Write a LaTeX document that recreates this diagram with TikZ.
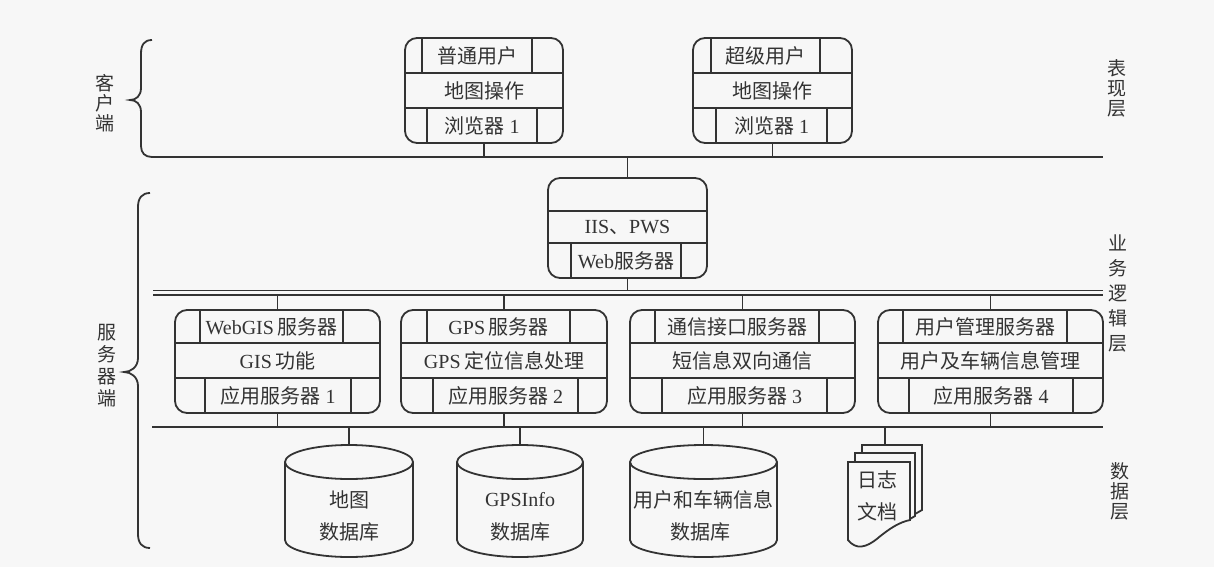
\documentclass[tikz,border=0pt]{standalone}
\usepackage{fontspec}
\setmainfont{Liberation Serif}
\newfontfamily\cjk{Noto Sans CJK SC}
\usetikzlibrary{fit}
\definecolor{bg}{HTML}{F7F7F7}
\definecolor{ink}{HTML}{333333}
\newcommand\tbox[9]{%
  \node[box, fit={(#2,#3) (#4,#5)}] (#1) {};
  \draw[ln] (#2,#6) -- (#4,#6) (#2,#7) -- (#4,#7);
  \foreach \xx in {#8} {\draw[ln] (\xx,#3) -- (\xx,#6);}
  \foreach \xx in {#9} {\draw[ln] (\xx,#7) -- (\xx,#5);}
}
\newcommand\cyl[3]{%
  \node[inner sep=0pt, fit={(#2,445) (#3,557)}] (#1) {};
  \draw[ln] ({(#2+#3)/2},462) ellipse ({(#3-#2)/2} and 17);
  \draw[ln] (#2,462) -- (#2,540) arc[start angle=180, end angle=0, x radius={(#3-#2)/2}, y radius=17] -- (#3,462);
}
\begin{document}
\begin{tikzpicture}[x=1pt,y=-1pt,
  ln/.style={draw=ink,line width=1.8pt},
  box/.style={draw=ink,line width=1.8pt,rounded corners=12pt,inner sep=0pt},
  t/.style={inner sep=0pt,text=ink,font=\fontsize{20}{22}\selectfont},
  side/.style={inner sep=0pt,text=ink,align=center,font=\cjk\fontsize{19}{20}\selectfont}]
\fill[bg] (0,0) rectangle (1214,567);
\useasboundingbox (0,0) rectangle (1214,567);

% bus coordinates
\coordinate (tb) at (152,157); \coordinate (tbE) at (1103,157);
\coordinate (mbU) at (153,290.5); \coordinate (mbUE) at (1103,290.5);
\coordinate (mbD) at (153,295); \coordinate (mbDE) at (1103,295);
\coordinate (bb) at (152,427); \coordinate (bbE) at (1103,427);

% braces
\draw[ln] (152,40) .. controls (144,40) and (141,45) .. (141,54) -- (141,88)
  .. controls (141,96) and (136,100) .. (130,100)
  .. controls (136,100) and (141,104) .. (141,112) -- (141,146)
  .. controls (141,153) and (145,157) .. (tb);
\draw[ln] (150,193) .. controls (142,193) and (138,198) .. (138,207) -- (138,358)
  .. controls (138,367) and (131,372) .. (124,372)
  .. controls (131,372) and (138,377) .. (138,386) -- (138,534)
  .. controls (138,543) and (142,548) .. (150,548);

% buses
\draw[ln] (tb) -- (tbE);
\draw[draw=ink,line width=1.3pt] (mbU) -- (mbUE) (mbD) -- (mbDE);
\draw[ln] (bb) -- (bbE);

% side labels
\node[side] (lc) at (105,103) {客\\户\\端};
\node[side, font=\cjk\fontsize{19}{22}\selectfont] (ls) at (107,366) {服\\务\\器\\端};
\node[side] (lp) at (1117,88) {表\\现\\层};
\node[side, font=\cjk\fontsize{19}{25}\selectfont] (lb) at (1118,293) {业\\务\\逻\\辑\\层};
\node[side] (ld) at (1120,491) {数\\据\\层};

% client boxes
\tbox{c1}{405}{38}{563}{143}{73}{108}{422,532}{427,537}
\node[t] at (477,55.5) {\cjk 普通用户};
\node[t] at (484,90.5) {\cjk 地图操作};
\node[t] at (482,125.5) {{\cjk 浏览器} 1};
\tbox{c2}{693}{38}{852}{143}{73}{108}{711,820}{716,827}
\node[t] at (765.5,55.5) {\cjk 超级用户};
\node[t] at (772.5,90.5) {\cjk 地图操作};
\node[t] at (771.5,125.5) {{\cjk 浏览器} 1};

% web server
\node[box, fit={(548,178) (707,278)}] (web) {};
\draw[ln] (548,211) -- (707,211) (548,243) -- (707,243) (571,243) -- (571,278) (681,243) -- (681,278);
\node[t] at (627.5,227) {IIS{\cjk 、}PWS};
\node[t] at (626,260.5) {Web{\cjk 服务器}};

% application servers
\tbox{a1}{175}{310}{380}{413}{343}{378}{200,343}{205,351}
\node[t] at (271.5,326.5) {WebGIS\,{\cjk 服务器}};
\node[t] at (277.5,360.5) {GIS\,{\cjk 功能}};
\node[t] at (278,395.5) {{\cjk 应用服务器} 1};
\tbox{a2}{401}{310}{607}{413}{343}{378}{427,570}{433,578}
\node[t] at (498.5,326.5) {GPS\,{\cjk 服务器}};
\node[t] at (504,360.5) {GPS\,{\cjk 定位信息处理}};
\node[t] at (505.5,395.5) {{\cjk 应用服务器} 2};
\tbox{a3}{630}{310}{855}{413}{343}{378}{655,819}{662,827}
\node[t] at (737,326.5) {\cjk 通信接口服务器};
\node[t] at (742.5,360.5) {\cjk 短信息双向通信};
\node[t] at (744.5,395.5) {{\cjk 应用服务器} 3};
\tbox{a4}{878}{310}{1103}{413}{343}{378}{903,1067}{909,1073}
\node[t] at (985,326.5) {\cjk 用户管理服务器};
\node[t] at (990.5,360.5) {\cjk 用户及车辆信息管理};
\node[t] at (991,395.5) {{\cjk 应用服务器} 4};

% databases
\cyl{db1}{285}{413}
\node[t] at (349,500) {\cjk 地图};
\node[t] at (349,532) {\cjk 数据库};
\cyl{db2}{457}{583}
\node[t] at (520,500) {GPSInfo};
\node[t] at (520,532) {\cjk 数据库};
\cyl{db3}{630}{777}
\node[t] at (703.5,500) {\cjk 用户和车辆信息};
\node[t] at (700,532) {\cjk 数据库};

% log documents
\node[inner sep=0pt, fit={(848,445) (922,548)}] (log) {};
\filldraw[ln, fill=bg] (862,445) -- (922,445) -- (922,510) -- (915,514) -- (862,530) -- cycle;
\filldraw[ln, fill=bg] (855,453) -- (915,453) -- (915,516) -- (910,519) -- (855,538) -- cycle;
\filldraw[ln, fill=bg] (848,462) -- (910,462) -- (910,520)
  .. controls (900,522) and (890,528) .. (878,538)
  .. controls (866,548) and (856,550) .. (848,540) -- cycle;
\node[t] at (877,480) {\cjk 日志};
\node[t] at (877,512) {\cjk 文档};

% connectors
\draw[ln] (c1.south) -- (c1.south |- tb);
\draw[ln] (c2.south) -- (c2.south |- tb);
\draw[ln] (web.north) -- (web.north |- tb);
\draw[ln] (web.south) -- (web.south |- mbU);
\foreach \b in {a1,a2,a3,a4} {
  \draw[ln] (\b.north) -- (\b.north |- mbD);
  \draw[ln] (\b.south) -- (\b.south |- bb);
}
\foreach \d in {db1,db2,db3,log} {
  \draw[ln] (\d.north) -- (\d.north |- bb);
}
\end{tikzpicture}
\end{document}
